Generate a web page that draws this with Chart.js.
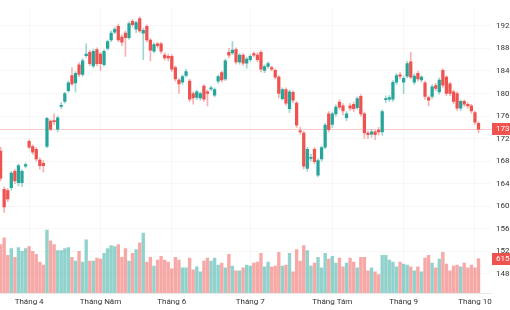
<!DOCTYPE html>
<html>
<head>
<meta charset="utf-8">
<script src="https://cdn.jsdelivr.net/npm/chart.js@4.4.1/dist/chart.umd.min.js"></script>
<style>
  html, body { margin: 0; padding: 0; background: #ffffff; }
  #wrap { width: 510px; height: 310px; }
</style>
</head>
<body>
<div id="wrap"><canvas id="chart"></canvas></div>
<script>
// daily candles, index 0 = last days of March
var opens = [1698,1630,1628,1633,1662,1642,1642,1671,1715,1706,
  1701,1682,1676,1706,1751,1752,1737,1777,1786,1805,
  1832,1819,1851,1834,1867,1873,1849,1878,1870,1851,
  1880,1895,1909,1919,1900,1907,1899,1928,1914,1933,
  1907,1919,1895,1875,1888,1888,1868,1866,1866,1846,
  1824,1820,1832,1822,1800,1793,1792,1813,1803,1808,
  1797,1822,1837,1826,1873,1872,1878,1856,1868,1854,
  1860,1871,1868,1873,1841,1848,1846,1841,1829,1791,
  1807,1773,1802,1783,1734,1730,1667,1685,1701,1655,
  1684,1705,1764,1745,1764,1785,1778,1757,1778,1781,
  1775,1795,1764,1730,1728,1732,1735,1732,1789,1790,
  1790,1820,1833,1820,1831,1856,1820,1836,1824,1819,
  1793,1795,1814,1803,1841,1829,1817,1803,1800,1774,
  1786,1781,1778,1766,1747];

var highs = [1705,1634,1632,1662,1666,1675,1665,1677,1718,1709,
  1704,1686,1681,1758,1754,1764,1760,1784,1802,1822,
  1846,1839,1855,1862,1888,1877,1879,1881,1873,1878,
  1895,1911,1918,1923,1904,1911,1927,1931,1929,1936,
  1916,1922,1898,1890,1891,1891,1872,1870,1869,1849,
  1827,1833,1843,1825,1803,1806,1803,1816,1806,1813,
  1810,1833,1840,1861,1880,1892,1881,1871,1871,1864,
  1869,1874,1872,1876,1851,1856,1849,1844,1832,1810,
  1810,1806,1805,1786,1740,1733,1705,1692,1704,1684,
  1707,1747,1768,1767,1780,1789,1782,1768,1782,1785,
  1794,1798,1767,1734,1736,1735,1740,1771,1796,1797,
  1823,1836,1837,1831,1857,1873,1835,1840,1832,1822,
  1796,1816,1818,1828,1844,1832,1820,1806,1803,1789,
  1789,1784,1781,1769,1750];

var lows = [1645,1589,1608,1628,1640,1636,1635,1668,1702,1692,
  1680,1666,1661,1704,1734,1745,1732,1773,1783,1802,
  1814,1803,1830,1831,1864,1850,1846,1849,1841,1848,
  1877,1892,1906,1892,1885,1866,1896,1918,1908,1908,
  1860,1891,1858,1872,1881,1871,1859,1858,1839,1822,
  1800,1816,1829,1786,1781,1789,1788,1786,1778,1805,
  1794,1818,1820,1823,1863,1869,1852,1852,1850,1845,
  1857,1865,1856,1838,1837,1845,1840,1826,1792,1788,
  1779,1766,1784,1740,1728,1666,1662,1680,1675,1652,
  1680,1702,1732,1740,1760,1772,1762,1752,1770,1768,
  1772,1760,1720,1720,1722,1718,1726,1726,1784,1786,
  1786,1816,1826,1800,1828,1826,1816,1822,1820,1790,
  1778,1791,1805,1799,1811,1796,1796,1782,1770,1770,
  1777,1774,1765,1745,1730];

var closes = [1650,1599,1613,1659,1645,1672,1662,1674,1705,1696,
  1684,1672,1672,1756,1737,1750,1757,1779,1800,1819,
  1817,1836,1834,1858,1870,1853,1875,1853,1853,1875,
  1892,1907,1914,1895,1891,1899,1924,1922,1926,1911,
  1912,1895,1877,1887,1885,1875,1863,1863,1843,1826,
  1817,1830,1839,1790,1792,1803,1800,1790,1800,1810,
  1807,1830,1824,1858,1868,1877,1856,1868,1854,1861,
  1866,1868,1860,1843,1848,1853,1843,1829,1800,1807,
  1783,1803,1788,1744,1732,1671,1701,1687,1679,1681,
  1704,1744,1736,1764,1776,1776,1769,1764,1774,1773,
  1791,1764,1730,1727,1732,1727,1732,1768,1791,1793,
  1820,1832,1831,1827,1853,1829,1831,1826,1829,1795,
  1788,1812,1809,1824,1815,1800,1800,1786,1774,1786,
  1781,1778,1769,1749,1737];

var volumes = [865,986,675,796,640,813,744,796,830,744,
  692,554,502,1125,934,865,761,761,796,813,
  640,571,744,554,952,571,571,623,606,709,
  796,848,830,865,640,796,571,709,779,900,
  1073,554,640,484,588,657,588,554,433,640,
  588,450,450,623,415,467,381,571,623,571,
  623,502,536,450,692,484,398,398,450,502,
  484,536,554,709,467,554,467,484,727,484,
  502,709,381,779,571,848,761,484,536,640,
  450,709,606,657,536,623,467,536,623,554,
  450,640,640,398,450,381,329,675,675,588,
  554,467,554,519,502,467,398,467,381,623,
  675,536,450,606,727,519,398,484,502,467,
  536,450,502,450,615];

// first trading day of each month (candle index) and its label
var monthStarts = [8, 28, 48, 70, 93, 113, 133];
var monthLabels = ["Tháng 4", "Tháng Năm", "Tháng 6", "Tháng 7", "Tháng Tám", "Tháng 9", "Tháng 10"];

var priceTicks = [1480, 1520, 1560, 1600, 1640, 1680, 1720, 1760, 1800, 1840, 1880, 1920];

var upColor = "#26a69a";
var downColor = "#ef5350";
var fontFamily = "Roboto, 'Noto Sans', sans-serif";

function isUp(i) {
  return closes[i] >= opens[i];
}

var bodyData = opens.map(function (o, i) {
  return { x: i, y: [o, closes[i]] };
});
var wickData = opens.map(function (o, i) {
  return { x: i, y: [lows[i], highs[i]] };
});
var volumeData = volumes.map(function (v, i) {
  return { x: i, y: v };
});

var last = closes.length - 1;

var lastValuePlugin = {
  id: "lastValue",
  beforeDatasetsDraw: function (chart) {
    var ctx = chart.ctx;
    var area = chart.chartArea;
    var y = Math.round(chart.scales.y.getPixelForValue(closes[last])) + 0.5;
    ctx.save();
    ctx.strokeStyle = "rgba(239,83,80,0.3)";
    ctx.lineWidth = 1;
    ctx.beginPath();
    ctx.moveTo(area.left, y);
    ctx.lineTo(area.right, y);
    ctx.stroke();
    ctx.restore();
  },
  afterDraw: function (chart) {
    var ctx = chart.ctx;
    var area = chart.chartArea;
    var boxColor = isUp(last) ? upColor : downColor;
    var labels = [
      { y: chart.scales.y.getPixelForValue(closes[last]), text: String(closes[last]) },
      { y: chart.scales.vol.getPixelForValue(volumes[last]), text: String(volumes[last]) },
    ];
    ctx.save();
    ctx.font = "8px " + fontFamily;
    ctx.textBaseline = "middle";
    ctx.textAlign = "left";
    labels.forEach(function (l) {
      ctx.fillStyle = boxColor;
      ctx.fillRect(area.right + 1, Math.round(l.y) - 6, chart.width - area.right, 12);
      ctx.fillStyle = "#ffffff";
      ctx.fillText(l.text, area.right + 5, Math.round(l.y));
    });
    ctx.restore();
  },
};

new Chart(document.getElementById("chart"), {
  type: "bar",
  data: {
    datasets: [
      {
        label: "body",
        data: bodyData,
        yAxisID: "y",
        grouped: false,
        order: 0,
        barThickness: 2.6,
        minBarLength: 1,
        backgroundColor: opens.map(function (o, i) {
          return isUp(i) ? upColor : downColor;
        }),
      },
      {
        label: "wick",
        data: wickData,
        yAxisID: "y",
        grouped: false,
        order: 1,
        barThickness: 1,
        backgroundColor: opens.map(function (o, i) {
          return isUp(i) ? "rgba(38,166,154,0.45)" : "rgba(239,83,80,0.45)";
        }),
      },
      {
        label: "volume",
        data: volumeData,
        yAxisID: "vol",
        grouped: false,
        order: 2,
        barThickness: 2.7,
        backgroundColor: volumes.map(function (v, i) {
          return isUp(i) ? "rgba(38,166,154,0.5)" : "rgba(239,83,80,0.5)";
        }),
      },
    ],
  },
  options: {
    responsive: true,
    maintainAspectRatio: false,
    animation: false,
    layout: { padding: 0 },
    plugins: {
      legend: { display: false },
      tooltip: { enabled: false },
    },
    scales: {
      x: {
        type: "linear",
        offset: false,
        min: -0.17,
        max: 137.5,
        afterBuildTicks: function (scale) {
          scale.ticks = monthStarts.map(function (v) {
            return { value: v };
          });
        },
        afterFit: function (scale) {
          scale.height = 17;
        },
        ticks: {
          autoSkip: false,
          maxRotation: 0,
          padding: 4,
          color: "#333333",
          font: { family: fontFamily, size: 8 },
          callback: function (value) {
            var k = monthStarts.indexOf(value);
            return k >= 0 ? monthLabels[k] : "";
          },
        },
        grid: {
          offset: false,
          color: "rgba(0,0,0,0.035)",
          drawTicks: false,
        },
        border: { display: true, color: "#e8e8e8" },
      },
      y: {
        position: "right",
        min: 1446.2,
        max: 1948.5,
        afterBuildTicks: function (scale) {
          scale.ticks = priceTicks.map(function (v) {
            return { value: v };
          });
        },
        afterFit: function (scale) {
          scale.width = 19;
        },
        ticks: {
          padding: 5,
          color: "#333333",
          font: { family: fontFamily, size: 8 },
          callback: function (value) {
            return String(value);
          },
        },
        grid: {
          color: "rgba(0,0,0,0.03)",
          drawTicks: false,
        },
        border: { display: false },
      },
      vol: {
        display: false,
        min: 0,
        max: 5070,
      },
    },
  },
  plugins: [lastValuePlugin],
});
</script>
</body>
</html>
